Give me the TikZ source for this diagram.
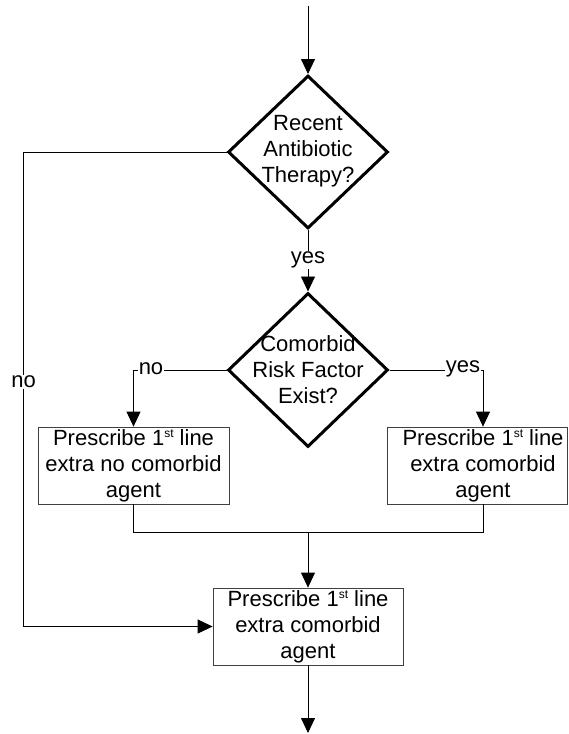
\documentclass[tikz,border=0pt]{standalone}
\usepackage{fontspec}
\setmainfont{Liberation Sans}
\usetikzlibrary{shapes.geometric,arrows.meta}
\newcommand{\ordst}{\raisebox{0.62ex}{\fontsize{12}{12}\selectfont st}}
\begin{document}
\begin{tikzpicture}[x=1pt,y=-1pt,
  every node/.style={font=\fontsize{22}{26}\selectfont},
  decision/.style={diamond, draw, line width=3pt, minimum width=160pt,
    minimum height=153pt, inner sep=0pt},
  dtext/.style={align=center, inner sep=0pt},
  process/.style={draw=black!75, line width=0.8pt, minimum height=77pt,
    align=center, inner sep=0pt},
  line/.style={line width=0.8pt},
  conn/.style={line, -{Triangle[length=15pt,width=14pt]}},
  lab/.style={fill=white, inner sep=1pt}]
\useasboundingbox (0,0) rectangle (569,734);

% decisions
\node[decision] (d1) at (308,152) {};
\node[dtext] (d1text) at (308,151) {Recent\\Antibiotic\\Therapy?};
\node[decision, minimum height=154pt] (d2) at (308,370) {};
\node[dtext] (d2text) at (308,370) {Comorbid\\Risk Factor\\Exist?};

% actions
\node[process, minimum width=191pt] (lb) at (133.5,465.5)
  {Prescribe 1\ordst{} line\\extra no comorbid\\agent};
\node[process, minimum width=180pt] (rb) at (477,465.5)
  {\hspace*{12pt}Prescribe 1\ordst{} line\\\hspace*{12pt}extra comorbid\\\hspace*{12pt}agent};
\node[process, minimum width=190pt] (b3) at (308,626.5)
  {Prescribe 1\ordst{} line\\extra comorbid\\agent};

% helper points for the routing
\coordinate (start) at (308,6);
\coordinate (finish) at (308,733);
\coordinate (loopx) at (23.6,0);
\coordinate (rbx) at (483,0);
\coordinate (mrg) at (308,532);

% connectors
\draw[conn] (start) -- (d1.north);
\draw[conn] (d1.south) -- (d2.north);
\draw[conn] (d2.west) -| (lb.north);
\draw[conn] (d2.east) -| (rb.north -| rbx);
\draw[line] (lb.south) |- (mrg);
\draw[line] (rb.south -| rbx) |- (mrg);
\draw[conn] (mrg) -- (b3.north);
\draw[conn] (d1.west) -- (d1.west -| loopx) |- (b3.west);
\draw[conn] (b3.south) -- (finish);

% branch labels
\node[lab] (yes1) at (308,260) {yes};
\node[lab] (no1) at (23.6,382) {no};
\node[lab] (no2) at (151,369) {no};
\node[lab] (yes2) at (463,369) {yes};
\end{tikzpicture}
\end{document}
